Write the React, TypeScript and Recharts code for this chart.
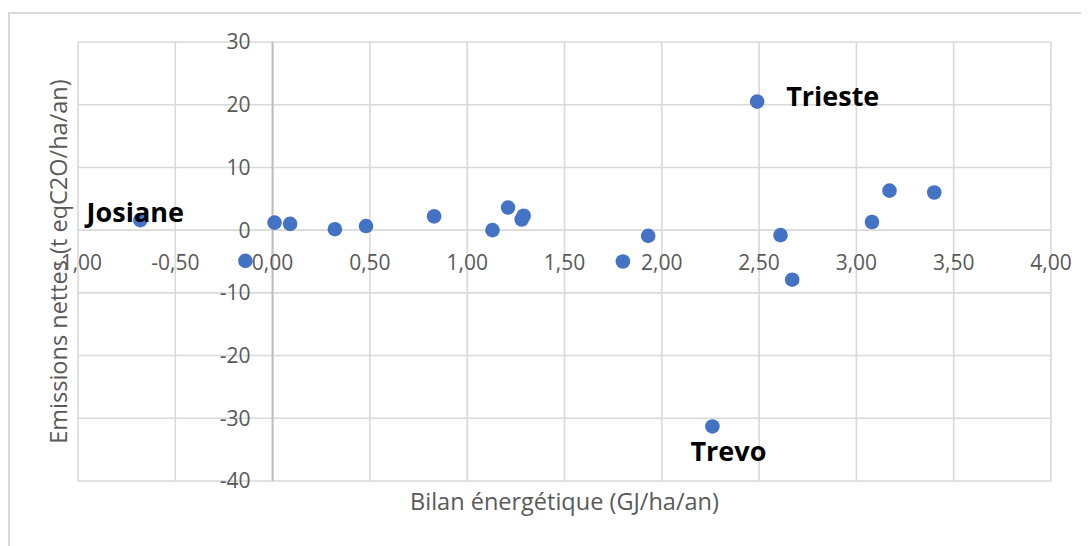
import React from "react";
import {
  ScatterChart,
  Scatter,
  XAxis,
  YAxis,
  CartesianGrid,
  ReferenceLine,
  ReferenceDot,
} from "recharts";

// exploitations (name only where the chart labels the point)
const farms = [
  "Josiane", "", "", "", "", "", "", "", "", "", "",
  "", "", "Trevo", "Trieste", "", "", "", "", "",
];
// Bilan énergétique (GJ/ha/an)
const bilan = [
  -0.68, -0.14, 0.01, 0.09, 0.32, 0.48, 0.83, 1.13, 1.21, 1.28, 1.29,
  1.8, 1.93, 2.26, 2.49, 2.61, 2.67, 3.08, 3.17, 3.4,
];
// Emissions nettes (t eqC2O/ha/an)
const emissions = [
  1.6, -4.9, 1.2, 1.0, 0.15, 0.65, 2.2, 0.0, 3.6, 1.7, 2.3,
  -5.0, -0.9, -31.3, 20.5, -0.8, -7.9, 1.3, 6.3, 6.0,
];

const xTicks = [-1, -0.5, 0, 0.5, 1, 1.5, 2, 2.5, 3, 3.5, 4];
const yTicks = [-40, -30, -20, -10, 0, 10, 20, 30];

const data = bilan.map((x, i) => ({ x, y: emissions[i], name: farms[i] }));

const labelPlacement: Record<string, { dx: number; dy: number; anchor: "start" | "middle" | "end" }> = {
  Josiane: { dx: -5, dy: -8, anchor: "middle" },
  Trieste: { dx: 29, dy: -5, anchor: "start" },
  Trevo: { dx: 16, dy: 25, anchor: "middle" },
};

const TICK = "#595959";
const GRID = "#d9d9d9";

const fmt = (v: number) => v.toFixed(2).replace(".", ",");

function Point(props: any) {
  const { cx, cy, payload } = props;
  const place = labelPlacement[payload?.name];
  return (
    <g>
      <circle cx={cx} cy={cy} r={7.3} fill="#4472C4" />
      {place && (
        <text
          x={cx + place.dx}
          y={cy + place.dy}
          dy="0.36em"
          textAnchor={place.anchor}
          fontSize={27}
          fontWeight={700}
          fill="#000"
        >
          {payload.name}
        </text>
      )}
    </g>
  );
}

function XTitle(props: any) {
  const vb = props.viewBox;
  return (
    <text
      x={vb.x + vb.width / 2}
      y={vb.y + 21}
      dy="0.36em"
      textAnchor="middle"
      fontSize={23.5}
      fill={TICK}
    >
      Bilan énergétique (GJ/ha/an)
    </text>
  );
}

function YTitle(props: any) {
  const vb = props.viewBox;
  const cx = vb.x + vb.width - 19;
  const cy = vb.y + vb.height / 2;
  return (
    <text
      x={cx}
      y={cy}
      dy="0.36em"
      transform={`rotate(-90 ${cx} ${cy})`}
      textAnchor="middle"
      fontSize={23.5}
      fill={TICK}
    >
      Emissions nettes (t eqC2O/ha/an)
    </text>
  );
}

// axis ticks are kept (for the grid) but drawn at the crossing via ReferenceDot labels
const NoTick = () => <g />;

export default function App() {
  return (
    <div
      style={{
        position: "relative",
        width: 1081,
        height: 538,
        overflow: "hidden",
        fontFamily: "'Open Sans', sans-serif",
      }}
    >
      <div
        style={{
          position: "absolute",
          left: 0,
          top: 4,
          width: 1200,
          height: 700,
          borderTop: `2px solid ${GRID}`,
          borderLeft: `2px solid ${GRID}`,
        }}
      />
      <ScatterChart
        width={1081}
        height={538}
        margin={{ top: 34, right: 38, bottom: 0, left: 0 }}
        style={{ position: "absolute", left: 0, top: 0 }}
      >
        <CartesianGrid stroke={GRID} strokeWidth={1.6} />
        <XAxis
          type="number"
          dataKey="x"
          domain={[-1, 4]}
          ticks={xTicks}
          tick={NoTick}
          tickLine={false}
          axisLine={false}
          height={65}
          label={XTitle}
        />
        <YAxis
          type="number"
          dataKey="y"
          domain={[-40, 30]}
          ticks={yTicks}
          tick={NoTick}
          tickLine={false}
          axisLine={false}
          width={70}
          label={YTitle}
        />
        <ReferenceLine x={0} stroke="#bfbfbf" strokeWidth={2} />
        {yTicks.map((t) => (
          <ReferenceDot
            key={"y" + t}
            x={0}
            y={t}
            r={0}
            fill="none"
            stroke="none"
            label={{ value: String(t), position: "left", offset: 22, fill: TICK, fontSize: 21 }}
          />
        ))}
        {xTicks.map((t) => (
          <ReferenceDot
            key={"x" + t}
            x={t}
            y={0}
            r={0}
            fill="none"
            stroke="none"
            label={{ value: fmt(t), position: "bottom", offset: 25, fill: TICK, fontSize: 21 }}
          />
        ))}
        <Scatter data={data} shape={Point} isAnimationActive={false} />
      </ScatterChart>
    </div>
  );
}
